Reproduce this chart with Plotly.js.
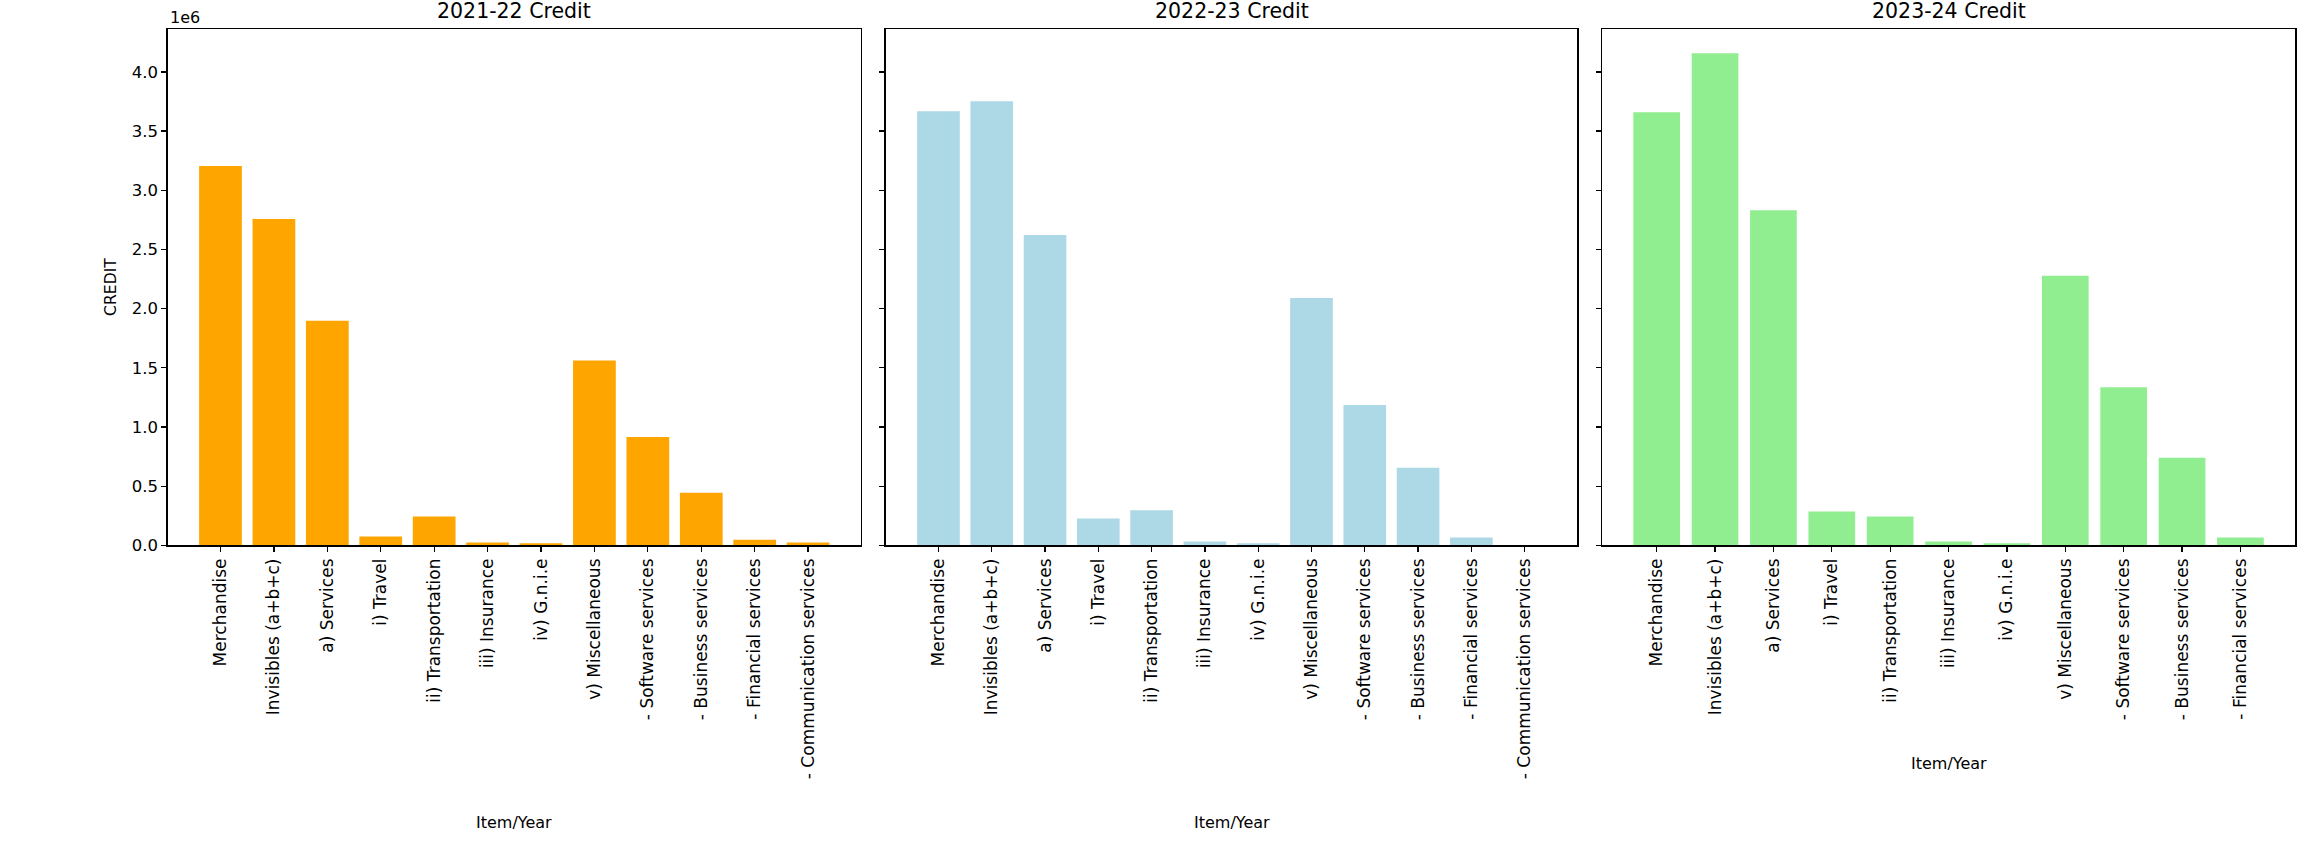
<!DOCTYPE html>
<html>
<head>
<meta charset="utf-8">
<script src="https://cdn.plot.ly/plotly-3.0.1.min.js"></script>
<style>html,body{margin:0;padding:0;background:#fff;}</style>
</head>
<body>
<div id="chart" style="width:2307px;height:863px;"></div>
<script>
const items2122 = ["Merchandise", "Invisibles (a+b+c)", "a) Services", "i) Travel", "ii) Transportation", "iii) Insurance", "iv) G.n.i.e", "v) Miscellaneous", "- Software services", "- Business services", "- Financial services", "- Communication services"];
const items2223 = ["Merchandise", "Invisibles (a+b+c)", "a) Services", "i) Travel", "ii) Transportation", "iii) Insurance", "iv) G.n.i.e", "v) Miscellaneous", "- Software services", "- Business services", "- Financial services", "- Communication services"];
const items2324 = ["Merchandise", "Invisibles (a+b+c)", "a) Services", "i) Travel", "ii) Transportation", "iii) Insurance", "iv) G.n.i.e", "v) Miscellaneous", "- Software services", "- Business services", "- Financial services"];

const credit2122 = [3205000, 2758000, 1897000, 75500, 245000, 24000, 18000, 1562000, 915000, 444000, 48000, 24000];
const credit2223 = [3668000, 3752000, 2622000, 227000, 296000, 33000, 18000, 2091000, 1187000, 656000, 66000, 0];
const credit2324 = [3659000, 4157000, 2831000, 287000, 245000, 33000, 18000, 2278000, 1335000, 740000, 66000];

const yTickLabels = ["0.0", "0.5", "1.0", "1.5", "2.0", "2.5", "3.0", "3.5", "4.0"];
const panelTitles = ["2021-22 Credit", "2022-23 Credit", "2023-24 Credit"];
const xTitle = "Item/Year";
const yTitle = "CREDIT";
const yExponent = "1e6";

const W = 2307, H = 863;
const FONT = "DejaVu Sans, Verdana, sans-serif";
const yTickVals = yTickLabels.map(s => parseFloat(s) * 1e6);

const px = v => v / W;
const py = v => 1 - v / H;
const domains = [[px(167.6), px(861.0)], [px(885.7), px(1577.4)], [px(1601.8), px(2295.3)]];
const yDom = [py(545.4), py(29.3)];
const xTitleY = [py(822), py(822), py(763)];

const colors = ["#FFA500", "#ADD8E6", "#90EE90"];
const cats = [items2122, items2223, items2324];
const vals = [credit2122, credit2223, credit2324];

const traces = cats.map((c, i) => ({
  type: "bar",
  x: c,
  y: vals[i],
  xaxis: i === 0 ? "x" : "x" + (i + 1),
  yaxis: i === 0 ? "y" : "y" + (i + 1),
  marker: {color: colors[i], line: {width: 0}},
  hoverinfo: "x+y",
  showlegend: false
}));

function xAxis(i) {
  const n = cats[i].length;
  return {
    domain: domains[i],
    anchor: i === 0 ? "y" : "y" + (i + 1),
    type: "category",
    range: [-0.4 - 0.05 * (n - 0.2), n - 0.6 + 0.05 * (n - 0.2)],
    tickangle: -90,
    ticks: "outside", ticklen: 5, tickwidth: 1.3, tickcolor: "#000",
    showline: true, mirror: true, linecolor: "#000", linewidth: 1.3,
    showgrid: false, zeroline: false,
    tickfont: {family: FONT, size: 17, color: "#000"},
    automargin: false
  };
}
function yAxis(i) {
  return {
    domain: yDom,
    anchor: i === 0 ? "x" : "x" + (i + 1),
    range: [0, 4.36e6],
    tickmode: "array", tickvals: yTickVals, ticktext: yTickLabels,
    showticklabels: i === 0,
    ticks: "outside", ticklen: 5, tickwidth: 1.3, tickcolor: "#000",
    showline: true, mirror: true, linecolor: "#000", linewidth: 1.3,
    showgrid: false, zeroline: false,
    tickfont: {family: FONT, size: 16.5, color: "#000"},
    automargin: false
  };
}

const annotations = panelTitles.map((t, i) => ({
  text: t, xref: "paper", yref: "paper",
  x: (domains[i][0] + domains[i][1]) / 2, y: yDom[1],
  xanchor: "center", yanchor: "bottom", yshift: 4, showarrow: false,
  font: {family: FONT, size: 20.5, color: "#000"}
}));
domains.forEach((d, i) => annotations.push({
  text: xTitle, xref: "paper", yref: "paper",
  x: (d[0] + d[1]) / 2, y: xTitleY[i],
  xanchor: "center", yanchor: "middle", showarrow: false,
  font: {family: FONT, size: 16, color: "#000"}
}));
annotations.push({
  text: yTitle, xref: "paper", yref: "paper", textangle: -90,
  x: px(111.6), y: (yDom[0] + yDom[1]) / 2,
  xanchor: "center", yanchor: "middle", showarrow: false,
  font: {family: FONT, size: 15.6, color: "#000"}
});
annotations.push({
  text: yExponent, xref: "paper", yref: "paper",
  x: domains[0][0], y: yDom[1], xanchor: "left", yanchor: "bottom", yshift: 0, showarrow: false,
  font: {family: FONT, size: 16, color: "#000"}
});

const layout = {
  width: W, height: H,
  margin: {l: 0, r: 0, t: 0, b: 0, pad: 0},
  paper_bgcolor: "#fff", plot_bgcolor: "#fff",
  bargap: 0.2,
  font: {family: FONT, color: "#000"},
  annotations: annotations,
  xaxis: xAxis(0), xaxis2: xAxis(1), xaxis3: xAxis(2),
  yaxis: yAxis(0), yaxis2: yAxis(1), yaxis3: yAxis(2)
};

Plotly.newPlot("chart", traces, layout, {displayModeBar: false, staticPlot: true});
</script>
</body>
</html>
